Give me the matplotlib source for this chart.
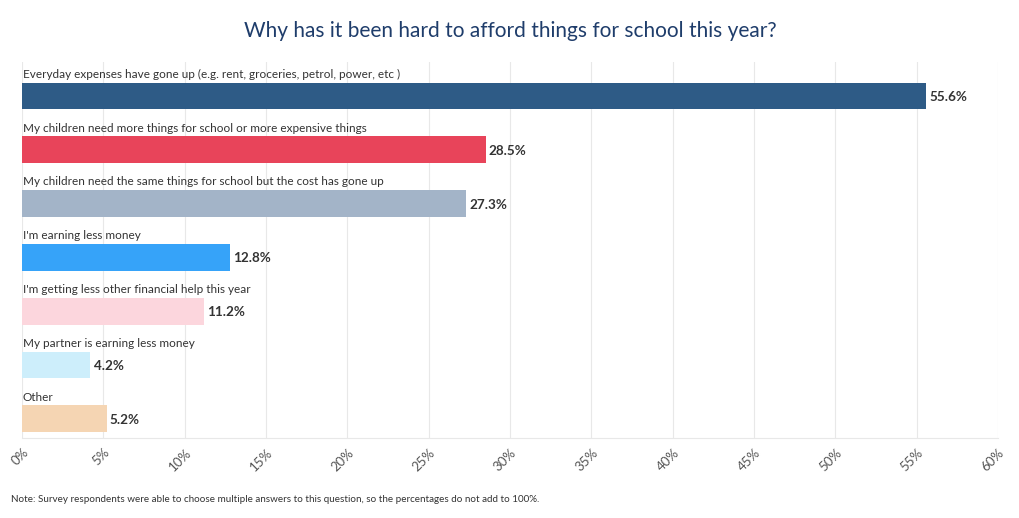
import matplotlib.pyplot as plt
from matplotlib.ticker import FuncFormatter

plt.rcParams["font.family"] = ["Lato", "DejaVu Sans"]

categories = [
    "Everyday expenses have gone up (e.g. rent, groceries, petrol, power, etc )",
    "My children need more things for school or more expensive things",
    "My children need the same things for school but the cost has gone up",
    "I'm earning less money",
    "I'm getting less other financial help this year",
    "My partner is earning less money",
    "Other",
]
values = [55.6, 28.5, 27.3, 12.8, 11.2, 4.2, 5.2]
colors = ["#2e5b86", "#e8445a", "#a3b4c8", "#36a3f9", "#fcd6dd", "#cdeefb", "#f5d5b3"]
ticks = list(range(0, 61, 5))

fig = plt.figure(figsize=(10.2, 5.18), dpi=100)
ax = fig.add_axes([0.0216, 0.1544, 0.9568, 0.7259])

pos = list(range(len(categories)))
bar_h = 0.5
ax.barh(pos, values, height=bar_h, color=colors, zorder=2)

for i, (cat, v) in enumerate(zip(categories, values)):
    ax.text(0.03, i - bar_h / 2 - 0.05, cat, ha="left", va="bottom",
            fontsize=8.5, color="#333333")
    ax.text(v + 0.2, i + 0.02, f"{v}%", ha="left", va="center",
            fontsize=9.7, fontweight="bold", color="#333333")

ax.set_xlim(0, 60)
ax.set_ylim(6.357, -0.632)
ax.set_xticks(ticks)
ax.xaxis.set_major_formatter(FuncFormatter(lambda x, _: f"{x:.0f}%"))
ax.set_yticks([])
ax.tick_params(axis="x", length=0, pad=6, labelsize=9.5, labelcolor="#555555")
for lbl in ax.get_xticklabels():
    lbl.set_rotation(45)
    lbl.set_ha("right")
    lbl.set_va("top")
    lbl.set_rotation_mode("anchor")

ax.grid(axis="x", color="#e8e8e8", linewidth=0.8, zorder=0)
for side in ["top", "right", "left"]:
    ax.spines[side].set_visible(False)
ax.spines["bottom"].set_color("#e8e8e8")

fig.text(0.5, 0.94, "Why has it been hard to afford things for school this year?",
         ha="center", va="center", fontsize=15, color="#1f3d6b")
fig.text(0.011, 0.035,
         "Note: Survey respondents were able to choose multiple answers to this question, so the percentages do not add to 100%.",
         ha="left", va="center", fontsize=7.1, color="#333333")

fig.savefig("out.png", dpi=100)
